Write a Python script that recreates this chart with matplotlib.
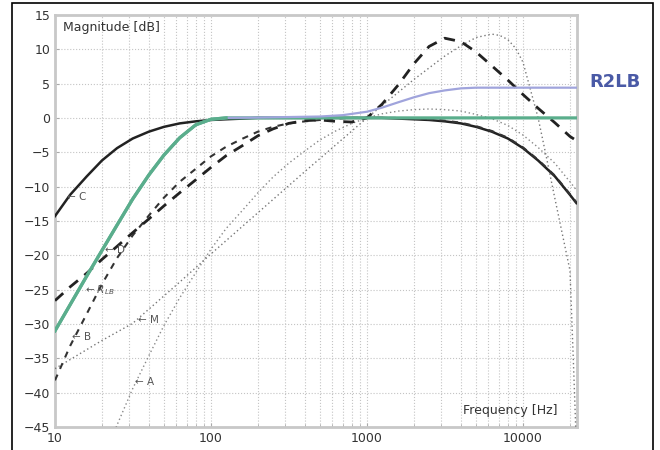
"""
- Weighting curves A, B, C, D, M, RLB, R2LB
- Export out.png
"""

import matplotlib
matplotlib.use("Agg")
import matplotlib.pyplot as plt
from matplotlib.patches import Rectangle

# -----------------------
# Data
# -----------------------
FREQ = [10, 12.5, 16, 20, 25, 31.5, 40, 50, 63, 80, 100, 125, 160, 200, 250,
        315, 400, 500, 630, 800, 1000, 1250, 1600, 2000, 2500, 3150, 4000,
        5000, 6300, 8000, 10000, 12500, 16000, 20000, 22000]

A_DB = [-70.4, -63.4, -56.7, -50.5, -44.7, -39.4, -34.6, -30.2, -26.2, -22.5,
        -19.1, -16.1, -13.4, -10.9, -8.6, -6.6, -4.8, -3.2, -1.9, -0.8, 0.0,
        0.6, 1.0, 1.2, 1.3, 1.2, 1.0, 0.5, -0.1, -1.1, -2.5, -4.3, -6.6, -9.3,
        -10.5]
B_DB = [-38.2, -33.2, -28.5, -24.2, -20.4, -17.1, -14.2, -11.6, -9.3, -7.4,
        -5.6, -4.2, -3.0, -2.0, -1.3, -0.8, -0.5, -0.3, -0.1, 0.0, 0.0, 0.0,
        0.0, -0.1, -0.2, -0.4, -0.7, -1.2, -1.9, -2.9, -4.3, -6.1, -8.4, -11.1,
        -12.3]
C_DB = [-14.3, -11.2, -8.5, -6.2, -4.4, -3.0, -2.0, -1.3, -0.8, -0.5, -0.3,
        -0.2, -0.1, 0.0, 0.0, 0.0, 0.0, 0.0, 0.0, 0.0, 0.0, 0.0, -0.1, -0.2,
        -0.3, -0.5, -0.8, -1.3, -2.0, -3.0, -4.4, -6.2, -8.5, -11.2, -12.4]
D_DB = [-26.6, -24.6, -22.6, -20.6, -18.7, -16.7, -14.7, -12.8, -10.9, -9.0,
        -7.2, -5.5, -4.0, -2.6, -1.6, -0.8, -0.4, -0.3, -0.5, -0.6, 0.0, 2.0,
        4.9, 7.9, 10.4, 11.6, 11.1, 9.6, 7.6, 5.5, 3.4, 1.4, -0.7, -2.7, -3.3]

M_FREQ = [10, 20, 31.5, 63, 100, 200, 400, 800, 1000, 2000, 3150, 4000, 5000,
          6300, 7100, 8000, 9000, 10000, 12500, 14000, 16000, 20000, 21000,
          22000]
M_DB = [-36.5, -32.4, -29.9, -23.9, -19.8, -13.8, -7.8, -1.9, 0.0, 5.6, 9.0,
        10.5, 11.7, 12.2, 12.0, 11.4, 10.1, 8.1, 0.0, -5.3, -11.7, -22.2,
        -35.0, -48.0]

RLB_FREQ = [10, 12.5, 16, 20, 25, 31.5, 40, 50, 63, 80, 100, 125, 22000]
RLB_DB = [-31.0, -27.2, -23.0, -19.3, -15.6, -11.8, -8.3, -5.4, -2.9, -1.0,
          -0.2, 0.0, 0.0]

R2LB_FREQ = [10, 12.5, 16, 20, 25, 31.5, 40, 50, 63, 80, 100, 125, 200, 500,
             700, 1000, 1250, 1600, 2000, 2500, 3150, 4000, 5000, 22000]
R2LB_DB = [-31.0, -27.2, -23.0, -19.3, -15.6, -11.8, -8.3, -5.4, -2.9, -1.0,
           -0.2, 0.0, 0.05, 0.2, 0.4, 0.9, 1.5, 2.3, 3.0, 3.6, 4.0, 4.3, 4.4,
           4.4]

# curve labels: text, x [Hz], y [dB]
LABELS = [("\u2190 C", 12.0, -11.5),
          ("\u2190 D", 21.0, -19.2),
          ("\u2190 $R_{LB}$", 15.6, -25.0),
          ("\u2190 B", 12.9, -31.9),
          ("\u2190 M", 34.0, -29.4),
          ("\u2190 A", 32.5, -38.5)]

Y_TICKS = list(range(-45, 16, 5))
X_TICKS = [10, 100, 1000, 10000]

# -----------------------
# Plot
# -----------------------
fig = plt.figure(figsize=(6.6, 4.5), dpi=100)
ax = fig.add_axes([0.0833, 0.051, 0.791, 0.916])

ax.plot(M_FREQ, M_DB, color="#777777", lw=1.0, ls=(0, (1, 2)), zorder=3)
ax.plot(FREQ, A_DB, color="#888888", lw=1.0, ls=(0, (1, 2)), zorder=3)
ax.plot(FREQ, C_DB, color="#222222", lw=1.8, zorder=4)
ax.plot(FREQ, B_DB, color="#333333", lw=1.5, ls=(0, (3, 3)), zorder=4)
ax.plot(FREQ, D_DB, color="#222222", lw=2.0, ls=(0, (4, 3)), zorder=4)
ax.plot(RLB_FREQ, RLB_DB, color="#5aae8c", lw=2.3, zorder=5)
ax.plot(R2LB_FREQ, R2LB_DB, color="#a0a4dc", lw=1.6, zorder=5.5)
# green again on top below 500 Hz so the shared low-frequency part stays green
ax.plot(RLB_FREQ[:-1], RLB_DB[:-1], color="#5aae8c", lw=2.3, zorder=6)

for txt, x, y in LABELS:
    ax.text(x, y, txt, fontsize=7.5, color="#555555", va="center", ha="left",
            zorder=7)

ax.set_xscale("log")
ax.set_xlim(10, 22200)
ax.set_ylim(-45, 15)
ax.set_yticks(Y_TICKS)
ax.set_xticks(X_TICKS)
ax.set_xticklabels([str(v) for v in X_TICKS])

ax.grid(True, which="major", color="#c4c4c4", ls=":", lw=0.8)
ax.grid(True, which="minor", axis="x", color="#c4c4c4", ls=":", lw=0.8)
ax.tick_params(which="both", direction="in", length=3, color="#aaaaaa",
               labelsize=9, labelcolor="#333333")
ax.tick_params(which="minor", length=2)
for sp in ax.spines.values():
    sp.set_color("#c8c8c8")
    sp.set_linewidth(2)

ax.text(0.015, 0.985, "Magnitude [dB]", transform=ax.transAxes, fontsize=9,
        color="#333333", va="top", ha="left")
ax.text(0.962, 0.04, "Frequency [Hz]", transform=ax.transAxes, fontsize=9,
        color="#333333", va="center", ha="right")

fig.text(0.893, 0.818, "R2LB", fontsize=13, fontweight="bold",
         color="#4a5aa6", va="center", ha="left")

# outer frame
fig.patches.append(Rectangle((0.018, -0.01), 0.971, 1.003, fill=False,
                             edgecolor="black", lw=1.2,
                             transform=fig.transFigure))

fig.savefig("out.png", dpi=100)
